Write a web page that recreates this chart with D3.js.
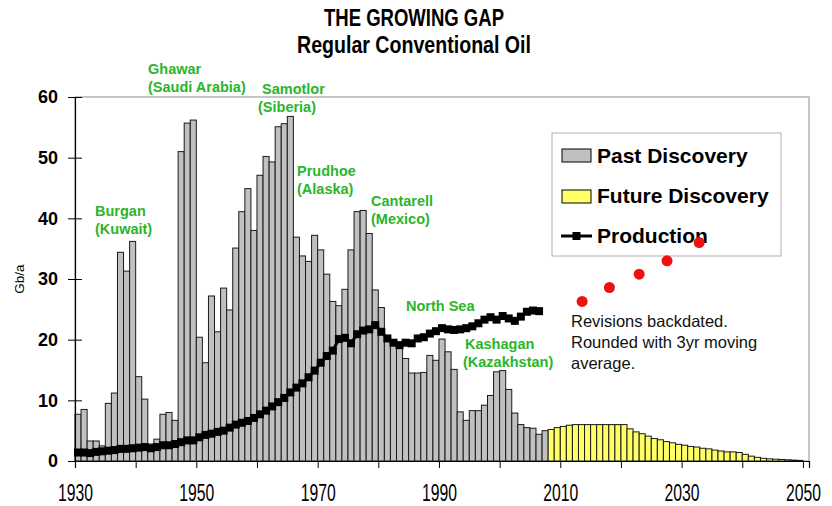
<!DOCTYPE html>
<html>
<head>
<meta charset="utf-8">
<script src="https://cdn.jsdelivr.net/npm/d3@7"></script>
<style>
  body { margin: 0; background: #fff; }
  svg { display: block; }
  .sans { font-family: "Liberation Sans", Arial, sans-serif; }
</style>
</head>
<body>
<script>
// past discovery, 1930-2007 (Gb/a)
var pastStart = 1930;
var pastDiscovery = [
  7.7, 8.5, 3.3, 3.3, 2.5, 9.5, 11.2, 34.4, 31.3, 36.2,
  13.9, 10.2, 2.8, 3.6, 7.7, 8.0, 6.7, 51.0, 55.7, 56.2,
  20.4, 16.2, 27.2, 21.3, 28.5, 24.9, 35.1, 41.1, 44.9, 38.0,
  47.1, 50.2, 49.3, 55.1, 55.6, 56.8, 36.9, 33.8, 32.9, 37.2,
  34.8, 30.8, 26.3, 25.6, 28.3, 34.8, 41.1, 41.3, 37.5, 28.2,
  25.3, 20.6, 19.8, 19.3, 16.9, 14.5, 14.5, 14.6, 17.4, 16.6,
  20.1, 18.0, 15.1, 8.1, 6.7, 8.3, 8.3, 9.2, 10.8, 14.7,
  14.9, 11.8, 7.9, 6.0, 5.5, 5.4, 4.4, 5.0
];

// future discovery, 2008-2049
var futureStart = 2008;
var futureDiscovery = [
  5.2, 5.5, 5.7, 5.9, 6.0, 6.0, 6.0, 6.0, 6.0, 6.0,
  6.0, 6.0, 6.0, 5.3, 4.8, 4.5, 4.1, 3.7, 3.5, 3.2,
  3.0, 2.75, 2.6, 2.4, 2.3, 2.1, 2.0, 1.8, 1.65, 1.5,
  1.5, 1.4, 1.1, 0.8, 0.6, 0.45, 0.35, 0.3, 0.25, 0.2,
  0.15, 0.1
];

// production, 1930-2006
var prodStart = 1930;
var production = [
  1.4, 1.4, 1.3, 1.5, 1.6, 1.7, 1.8, 2.0, 2.0, 2.1,
  2.2, 2.3, 2.1, 2.3, 2.6, 2.6, 2.8, 3.1, 3.4, 3.4,
  3.9, 4.3, 4.5, 4.8, 5.0, 5.5, 6.0, 6.3, 6.6, 7.1,
  7.7, 8.3, 9.0, 9.7, 10.4, 11.3, 12.1, 12.8, 13.8, 14.9,
  16.2, 17.3, 18.2, 20.1, 20.3, 19.4, 20.9, 21.5, 21.7, 22.4,
  21.3, 20.2, 19.5, 19.1, 19.5, 19.4, 20.2, 20.4, 21.0, 21.4,
  21.9, 21.7, 21.6, 21.7, 21.9, 22.2, 22.7, 23.3, 23.7, 23.3,
  23.9, 23.5, 23.1, 23.8, 24.6, 24.8, 24.7
];

// revisions backdated (red dots)
var revYears = [2013.1, 2017.6, 2022.5, 2027.1, 2032.4];
var revValues = [26.3, 28.6, 30.8, 33.0, 36.0];

var yTicks = [0, 10, 20, 30, 40, 50, 60];
var xTicks = d3.range(1930, 2051, 10);
var xLabels = [1930, 1950, 1970, 1990, 2010, 2030, 2050];

var fields = [
  { lines: ["Ghawar", "(Saudi Arabia)"], x: 148, y: 74 },
  { lines: ["Samotlor", "(Siberia)"], x: 262, y: 94, dx: [0, -4] },
  { lines: ["Prudhoe", "(Alaska)"], x: 297, y: 176 },
  { lines: ["Cantarell", "(Mexico)"], x: 371, y: 206 },
  { lines: ["Burgan", "(Kuwait)"], x: 95, y: 216 },
  { lines: ["North Sea"], x: 406, y: 311 },
  { lines: ["Kashagan", "(Kazakhstan)"], x: 463, y: 349, dx: [2, 0] }
];

var W = 832, H = 506;
var svg = d3.select('body').append('svg').attr('width', W).attr('height', H);

var x = d3.scaleLinear().domain([1930, 2051]).range([75, 809]);
var y = d3.scaleLinear().domain([0, 60]).range([461, 97]);

// frame
svg.append('rect')
  .attr('x', x(1930)).attr('y', y(60))
  .attr('width', x(2051) - x(1930)).attr('height', y(0) - y(60))
  .attr('fill', 'none').attr('stroke', '#a0a0a0').attr('stroke-width', 1.2);

// bars
var bars = svg.append('g');
bars.selectAll('.past').data(pastDiscovery).enter().append('rect')
  .attr('x', function(d, i){ return x(pastStart + i); })
  .attr('width', function(d, i){ return x(pastStart + i + 1) - x(pastStart + i); })
  .attr('y', function(d){ return y(d); })
  .attr('height', function(d){ return y(0) - y(d); })
  .attr('fill', '#c0c0c0').attr('stroke', '#1a1a1a').attr('stroke-width', 1);

bars.selectAll('.future').data(futureDiscovery).enter().append('rect')
  .attr('x', function(d, i){ return x(futureStart + i); })
  .attr('width', function(d, i){ return x(futureStart + i + 1) - x(futureStart + i); })
  .attr('y', function(d){ return y(d); })
  .attr('height', function(d){ return y(0) - y(d); })
  .attr('fill', '#ffff66').attr('stroke', '#1a1a1a').attr('stroke-width', 1);

// production line
var prodLine = d3.line()
  .x(function(d, i){ return x(prodStart + i + 0.5); })
  .y(function(d){ return y(d); });

svg.append('path').datum(production)
  .attr('d', prodLine)
  .attr('fill', 'none').attr('stroke', '#000').attr('stroke-width', 3);

svg.append('g').selectAll('rect').data(production).enter().append('rect')
  .attr('x', function(d, i){ return x(prodStart + i + 0.5) - 4; })
  .attr('y', function(d){ return y(d) - 4; })
  .attr('width', 8).attr('height', 8)
  .attr('fill', '#000');

// axes
var xAxis = svg.append('g')
  .attr('transform', 'translate(0,' + y(0) + ')')
  .call(d3.axisBottom(x).tickValues(xTicks).tickSize(7).tickPadding(16)
    .tickFormat(function(d){ return xLabels.indexOf(d) >= 0 ? d : ''; }));
xAxis.select('.domain').attr('stroke', '#000').attr('stroke-width', 1.2);
xAxis.selectAll('text').attr('class', 'sans').attr('font-size', 24).attr('fill', '#000')
  .filter(function(d){ return xLabels.indexOf(d) >= 0; })
  .attr('textLength', 35).attr('lengthAdjust', 'spacingAndGlyphs');

var yAxis = svg.append('g')
  .attr('transform', 'translate(' + x(1930) + ',0)')
  .call(d3.axisLeft(y).tickValues(yTicks).tickSize(7).tickPadding(10));
yAxis.select('.domain').attr('stroke', '#000').attr('stroke-width', 1.2);
yAxis.selectAll('.tick line').attr('x2', 7).attr('x1', -7);
yAxis.selectAll('text').attr('class', 'sans').attr('font-size', 18)
  .attr('font-weight', 'bold').attr('fill', '#000');

svg.append('text').attr('class', 'sans')
  .attr('transform', 'translate(24,279) rotate(-90)')
  .attr('text-anchor', 'middle').attr('font-size', 13.5).text('Gb/a');

// titles
svg.append('text').attr('class', 'sans')
  .attr('x', 414).attr('y', 26).attr('text-anchor', 'middle')
  .attr('font-size', 23.5).attr('font-weight', 'bold')
  .attr('textLength', 180).attr('lengthAdjust', 'spacingAndGlyphs')
  .text('THE GROWING GAP');
svg.append('text').attr('class', 'sans')
  .attr('x', 414).attr('y', 53).attr('text-anchor', 'middle')
  .attr('font-size', 23).attr('font-weight', 'bold')
  .attr('textLength', 234).attr('lengthAdjust', 'spacingAndGlyphs')
  .text('Regular Conventional Oil');

// field labels
fields.forEach(function(f){
  var t = svg.append('text').attr('class', 'sans')
    .attr('font-size', 14.5).attr('font-weight', 'bold').attr('fill', '#2ab52a');
  f.lines.forEach(function(l, k){
    t.append('tspan').attr('x', f.x + (f.dx ? f.dx[k] : 0)).attr('y', f.y + k * 18).text(l);
  });
});

// legend
var lg = svg.append('g').attr('class', 'sans');
lg.append('rect').attr('x', 552).attr('y', 133).attr('width', 229).attr('height', 123)
  .attr('fill', '#fff').attr('stroke', '#b0b0b0').attr('stroke-width', 1);
lg.append('rect').attr('x', 562).attr('y', 149).attr('width', 29).attr('height', 13)
  .attr('fill', '#c0c0c0').attr('stroke', '#000');
lg.append('rect').attr('x', 562).attr('y', 190).attr('width', 29).attr('height', 13)
  .attr('fill', '#ffff66').attr('stroke', '#000');
lg.append('line').attr('x1', 561).attr('x2', 592).attr('y1', 236).attr('y2', 236)
  .attr('stroke', '#000').attr('stroke-width', 3);
lg.append('rect').attr('x', 572.5).attr('y', 232).attr('width', 8).attr('height', 8).attr('fill', '#000');
var legendNames = ['Past Discovery', 'Future Discovery', 'Production'];
lg.selectAll('.lt').data(legendNames).enter().append('text')
  .attr('x', 597).attr('y', function(d, i){ return 163 + i * 40; })
  .attr('font-size', 21).attr('font-weight', 'bold').text(function(d){ return d; });

// revision dots
svg.append('g').selectAll('circle').data(revValues).enter().append('circle')
  .attr('cx', function(d, i){ return x(revYears[i] + 0.5); })
  .attr('cy', function(d){ return y(d); })
  .attr('r', 5.5).attr('fill', '#ee1111');

var note = svg.append('text').attr('class', 'sans').attr('font-size', 16.5).attr('fill', '#111');
['Revisions backdated.', 'Rounded with 3yr moving', 'average.'].forEach(function(l, k){
  note.append('tspan').attr('x', 571).attr('y', 327 + k * 21).text(l);
});
</script>
</body>
</html>
